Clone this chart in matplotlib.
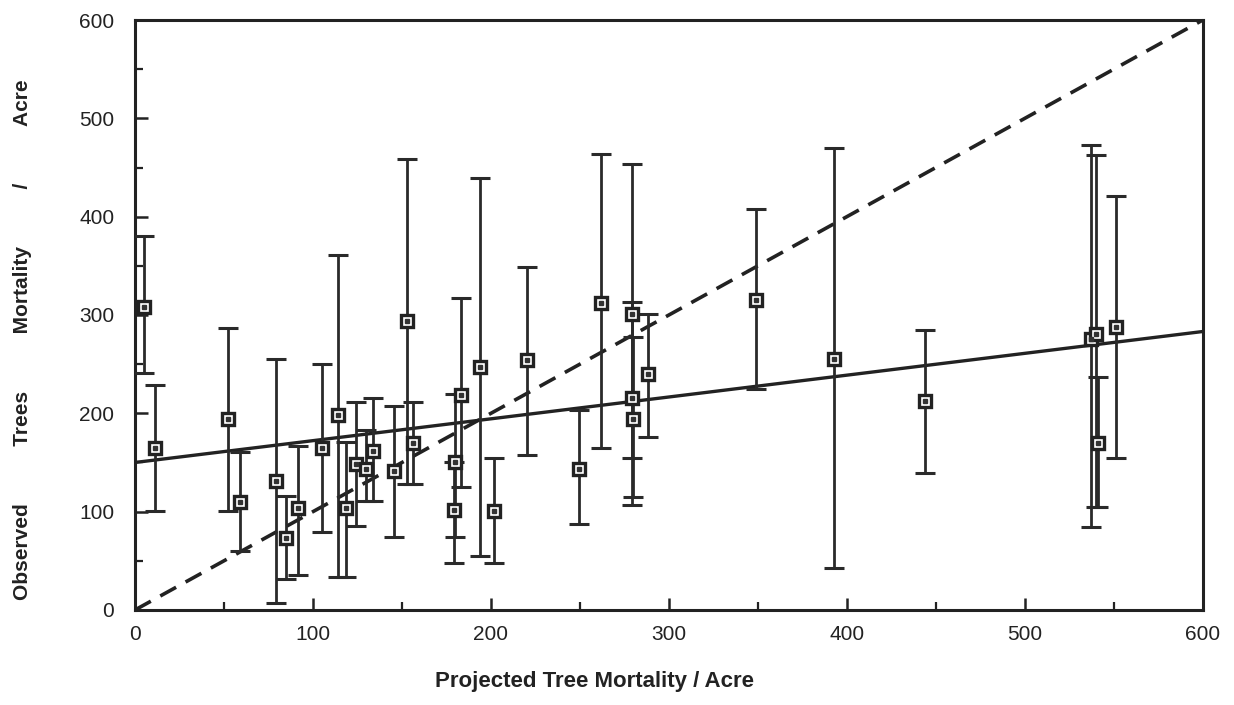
import matplotlib
matplotlib.use("Agg")
import matplotlib.pyplot as plt
import numpy as np

# projected (x) vs observed (y) mortality per acre, with low/high bar ends
proj = [5, 11, 52, 59, 79, 85, 91.5, 105, 114, 118.5, 124, 130, 134, 145.5,
        153, 156, 179, 180, 183, 194, 202, 220, 249.5, 262, 279, 279, 280,
        288, 349, 393, 444, 537, 540, 541, 551]
obs = [308, 165, 194, 110, 131, 73, 104, 165, 198, 104, 148, 143, 162, 141,
       294, 170, 102, 150, 219, 247, 101, 254, 143, 312, 301, 216, 194,
       240, 315, 255, 213, 276, 281, 170, 288]
obs_lo = [241, 101, 101, 60, 7, 32, 36, 79, 34, 34, 85, 111, 111, 74,
          128, 128, 48, 74, 125, 55, 48, 158, 87, 165, 107, 155, 115,
          176, 225, 43, 139, 84, 105, 105, 155]
obs_hi = [380, 229, 287, 161, 255, 116, 167, 250, 361, 171, 212, 183, 216, 207,
          459, 212, 150, 220, 317, 439, 155, 349, 203, 464, 454, 313, 278,
          301, 408, 470, 285, 473, 463, 237, 421]

FIT_INTERCEPT, FIT_SLOPE = 150.0, 0.222
XMAX = YMAX = 600
XTICKS = [0, 100, 200, 300, 400, 500, 600]
YTICKS = [0, 100, 200, 300, 400, 500, 600]

plt.rcParams["font.family"] = ["Liberation Sans", "DejaVu Sans"]

fig = plt.figure(figsize=(12.34, 7.05), dpi=100)
ax = fig.add_axes([0.1094, 0.1348, 0.8653, 0.8368])

x = np.array(proj)
y = np.array(obs)
yerr = [y - np.array(obs_lo), np.array(obs_hi) - y]

# 1:1 reference line and fitted line
ax.plot([0, XMAX], [0, YMAX], color="#222222", lw=2.6, ls=(0, (5, 3)), zorder=2)
xx = np.array([0, XMAX])
ax.plot(xx, FIT_INTERCEPT + FIT_SLOPE * xx, color="#222222", lw=2.4, zorder=2)

ax.errorbar(x, y, yerr=yerr, fmt="none", ecolor="#2a2a2a", elinewidth=2.0,
            capsize=7, capthick=2.2, zorder=3)
ax.plot(x, y, ls="none", marker="s", ms=9, mfc="white", mec="#222222",
        mew=2.4, zorder=4)
ax.plot(x, y, ls="none", marker="s", ms=2.5, color="#333333", zorder=5)

ax.set_xlim(0, XMAX)
ax.set_ylim(0, YMAX)
ax.set_xticks(XTICKS)
ax.set_yticks(YTICKS)
ax.set_xticks(np.arange(50, XMAX, 100), minor=True)
ax.set_yticks(np.arange(50, YMAX, 100), minor=True)
ax.tick_params(which="major", direction="in", length=9, width=1.8,
               labelsize=15, pad=11, colors="#222222")
ax.tick_params(which="minor", direction="in", length=6, width=1.6,
               colors="#222222")
ax.tick_params(axis="y", pad=15)
for s in ax.spines.values():
    s.set_linewidth(2.2)
    s.set_color("#222222")

fig.text(0.482, 0.0185, "Projected Tree Mortality / Acre", ha="center",
         va="bottom", fontsize=16, fontweight="bold",
         family=["Liberation Sans Narrow", "Liberation Sans"], color="#222222")
gap = " " * 10
fig.text(0.018, 0.518, gap.join(["Observed", "Trees", "Mortality", "/", "Acre"]),
         ha="center", va="center", rotation=90, fontsize=15,
         fontweight="bold", color="#222222")

fig.savefig("out.png", dpi=100)
